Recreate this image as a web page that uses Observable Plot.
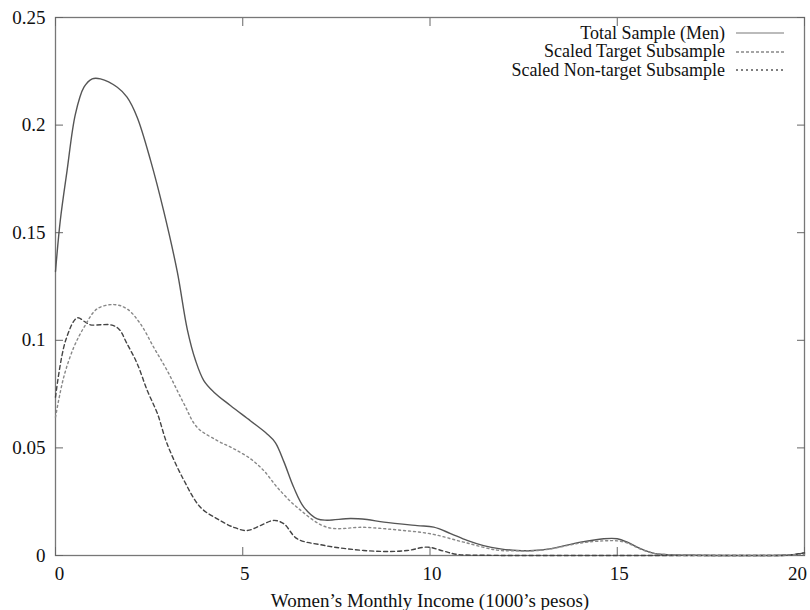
<!DOCTYPE html>
<html>
<head>
<meta charset="utf-8">
<script src="https://cdn.jsdelivr.net/npm/d3@7"></script>
<script src="https://cdn.jsdelivr.net/npm/@observablehq/plot@0.6"></script>
<style>
  body { margin: 0; background: #fff; }
  #wrap { position: relative; width: 810px; height: 610px; }
  #legend { position: absolute; top: 24px; left: 420px; width: 380px; font-family: 'Liberation Serif', 'DejaVu Serif', 'Times New Roman', serif; font-size: 18px; color: #111; }
  #legend .row { display: flex; justify-content: flex-end; align-items: center; height: 18.5px; }
  #legend svg { margin-left: 11px; margin-right: 16px; }
</style>
</head>
<body>
<div id="wrap"><div id="legend"></div></div>
<script>
// ---- data ----
const seriesNames = ["Total Sample (Men)", "Scaled Target Subsample", "Scaled Non-target Subsample"];

const totalX = [0, 0.13, 0.31, 0.53, 0.76, 0.98, 1.2, 1.65, 1.91, 2.18, 2.54, 2.89, 3.25, 3.52, 3.74, 3.96, 4.23, 4.67, 5.21, 5.65, 5.87, 6.1, 6.36, 6.63, 6.99, 7.25, 7.88, 8.32, 8.77, 9.66, 10.1, 10.55, 10.99, 11.43, 11.88, 12.33, 12.77, 13.2, 14.02, 14.64, 15.0, 15.27, 15.62, 15.98, 16.33, 17, 18, 19, 19.6, 20];
const totalY = [0.132, 0.156, 0.179, 0.205, 0.2176, 0.2215, 0.2215, 0.2176, 0.213, 0.2037, 0.1835, 0.160, 0.132, 0.105, 0.0906, 0.0813, 0.0759, 0.0697, 0.0625, 0.0565, 0.0525, 0.0435, 0.0317, 0.0225, 0.017, 0.0164, 0.0172, 0.0167, 0.0155, 0.0139, 0.0132, 0.0102, 0.007, 0.0046, 0.0031, 0.0023, 0.0023, 0.0031, 0.0062, 0.0078, 0.0078, 0.0062, 0.0032, 0.001, 0.0004, 0.0001, 0, 0, 0.0002, 0.0012];

const targetX = [0, 0.27, 0.58, 0.8, 0.93, 1.2, 1.47, 1.69, 1.91, 2.18, 2.45, 2.72, 2.98, 3.43, 3.87, 4.32, 4.76, 5.12, 5.47, 5.83, 6.1, 6.45, 7.08, 7.79, 8.68, 9.39, 9.93, 10.37, 10.73, 11.5, 13, 15, 17, 18, 19, 19.6, 20];
const targetY = [0.0736, 0.0999, 0.1104, 0.1084, 0.1072, 0.1072, 0.1072, 0.1053, 0.0984, 0.0892, 0.0767, 0.066, 0.0519, 0.0349, 0.0224, 0.017, 0.0131, 0.0116, 0.0139, 0.0163, 0.0147, 0.0078, 0.005, 0.0031, 0.0019, 0.0023, 0.0039, 0.002, 0.0005, 0.0001, 0, 0, 0, 0, 0, 0.0002, 0.0012];

const nonTargetX = [0, 0.22, 0.49, 0.76, 1.11, 1.56, 1.91, 2.27, 2.62, 2.98, 3.43, 3.78, 4.32, 4.76, 5.21, 5.56, 5.92, 6.45, 7.25, 8.23, 9.12, 10.01, 10.9, 11.79, 12.33, 12.77, 13.2, 14.02, 14.64, 15.0, 15.27, 15.62, 15.98, 16.33, 17, 19, 20];
const nonTargetY = [0.0643, 0.0829, 0.0968, 0.106, 0.1146, 0.1166, 0.1146, 0.1076, 0.0968, 0.086, 0.0705, 0.0596, 0.0534, 0.0496, 0.0449, 0.0395, 0.0317, 0.0224, 0.0131, 0.0131, 0.0119, 0.0101, 0.0062, 0.0025, 0.0022, 0.0022, 0.003, 0.0058, 0.0068, 0.0068, 0.0058, 0.003, 0.001, 0.0004, 0.0001, 0, 0.0005];

const xTicks = [0, 5, 10, 15, 20];
const yTicks = [0, 0.05, 0.1, 0.15, 0.2, 0.25];
const xLabel = "Women\u2019s Monthly Income (1000\u2019s pesos)";

// ---- build tables ----
const toRows = (xs, ys) => xs.map((x, i) => ({x, y: ys[i]}));
const total = toRows(totalX, totalY);
const target = toRows(targetX, targetY);
const nonTarget = toRows(nonTargetX, nonTargetY);

const styles = [
  {stroke: "#555", dash: null, width: 1.4},
  {stroke: "#444", dash: "4,3", width: 1.4},
  {stroke: "#888", dash: "2,3", width: 1.4}
];

const font = "'Liberation Serif', 'DejaVu Serif', 'Times New Roman', serif";
const fmt = d => String(d);
const plot = Plot.plot({
  width: 810,
  height: 610,
  marginLeft: 55,
  marginRight: 6,
  marginTop: 17,
  marginBottom: 55,
  style: {fontFamily: font, fontSize: "20px", color: "#111", background: "#fff"},
  x: {domain: [0, 20]},
  y: {domain: [0, 0.25]},
  marks: [
    Plot.frame({stroke: "#777", strokeWidth: 1.3}),
    // inward ticks (mirrored)
    Plot.axisX(xTicks, {anchor: "bottom", tickSize: -8, text: null, stroke: "#666", label: null}),
    Plot.axisX(xTicks, {anchor: "top", tickSize: -8, text: null, stroke: "#666", label: null}),
    Plot.axisY(yTicks, {anchor: "left", tickSize: -8, text: null, stroke: "#666", label: null}),
    Plot.axisY(yTicks, {anchor: "right", tickSize: -8, text: null, stroke: "#666", label: null}),
    // tick labels
    Plot.axisX(xTicks.slice(0, 1), {anchor: "bottom", tickSize: 0, tickPadding: 11, tickFormat: fmt, fontSize: 19, dx: 4, label: null, fill: "#111"}),
    Plot.axisX(xTicks.slice(1, 4), {anchor: "bottom", tickSize: 0, tickPadding: 11, tickFormat: fmt, fontSize: 19, dx: 2, label: null, fill: "#111"}),
    Plot.axisX(xTicks.slice(4), {anchor: "bottom", tickSize: 0, tickPadding: 11, tickFormat: fmt, fontSize: 19, dx: -7, label: null, fill: "#111"}),
    Plot.axisX({anchor: "bottom", ticks: [], tickSize: 0, label: xLabel, labelAnchor: "center", labelArrow: "none", labelOffset: 51, fontSize: 19, fill: "#111"}),
    Plot.axisY(yTicks, {anchor: "left", tickSize: 0, tickPadding: 10, tickFormat: fmt, fontSize: 19, label: null, fill: "#111"}),
    Plot.line(total, {x: "x", y: "y", curve: "catmull-rom", stroke: styles[0].stroke, strokeWidth: styles[0].width}),
    Plot.line(target, {x: "x", y: "y", curve: "catmull-rom", stroke: styles[1].stroke, strokeWidth: styles[1].width, strokeDasharray: styles[1].dash}),
    Plot.line(nonTarget, {x: "x", y: "y", curve: "catmull-rom", stroke: styles[2].stroke, strokeWidth: styles[2].width, strokeDasharray: styles[2].dash})
  ]
});
document.getElementById("wrap").prepend(plot);

// legend
const legendStyles = [
  {stroke: "#bbb", dash: null, width: 2},
  {stroke: "#888", dash: "3,2", width: 1.5},
  {stroke: "#555", dash: "2,3", width: 1.5}
];
const leg = document.getElementById("legend");
seriesNames.forEach((name, i) => {
  const row = document.createElement("div");
  row.className = "row";
  const s = legendStyles[i];
  row.innerHTML = `<span>${name}</span><svg width="48" height="10"><line x1="0" x2="48" y1="5" y2="5" stroke="${s.stroke}" stroke-width="${s.width}" ${s.dash ? `stroke-dasharray="${s.dash}"` : ""}/></svg>`;
  leg.appendChild(row);
});
</script>
</body>
</html>
